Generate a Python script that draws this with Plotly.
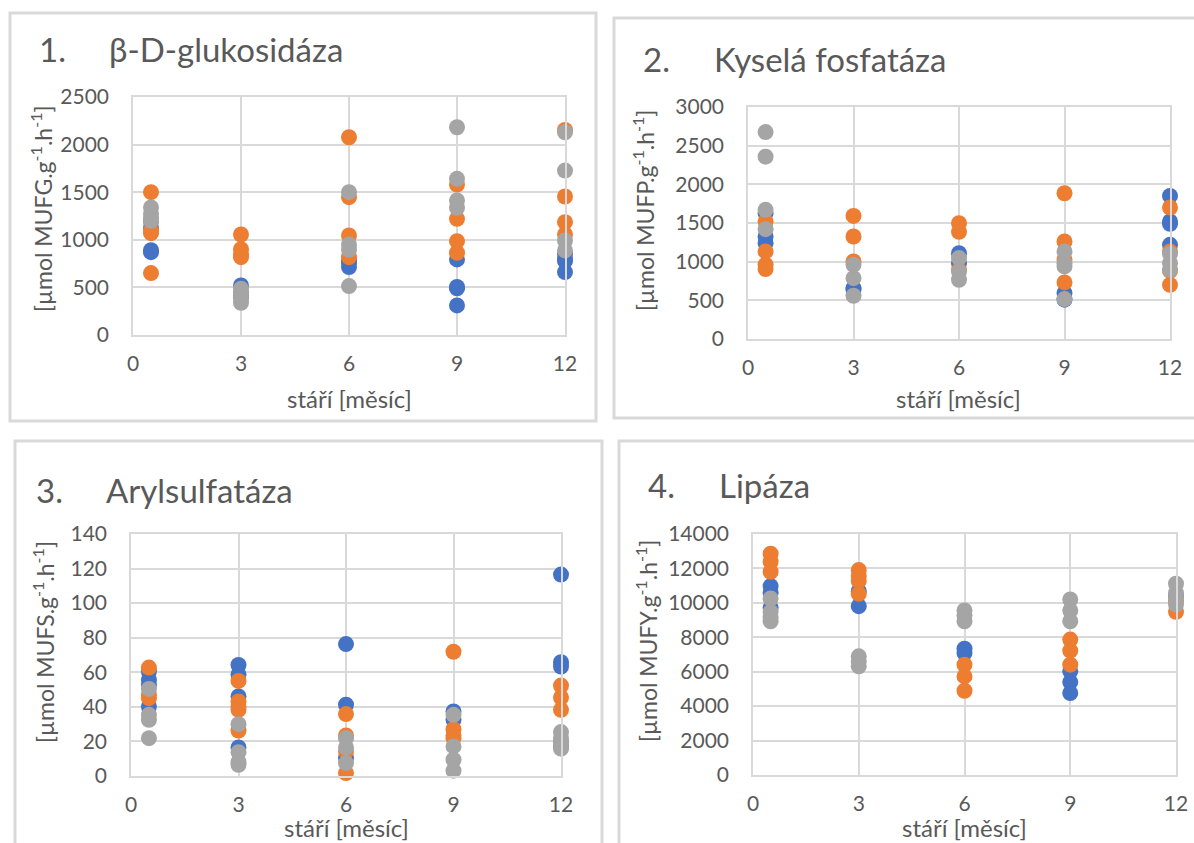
import plotly.graph_objects as go

W, H = 1194, 843
MONTHS = [0.5, 3, 6, 9, 12]
TICKS_X = [0, 3, 6, 9, 12]

# values per month group (0.5, 3, 6, 9, 12)
GLU_BLUE = [[1130, 1200, 890, 870], [521, 434, 400], [783, 713, 760], [794, 504, 311, 490], [853, 776, 661, 800]]
GLU_ORANGE = [[1500, 1070, 1100, 650], [1056, 902, 818, 850], [2077, 1448, 1046, 818], [1581, 1220, 986, 864], [2154, 1455, 1185, 1056]]
GLU_GRAY = [[1340, 1270, 1220, 1200], [486, 434, 399, 339], [1500, 951, 895, 514], [2182, 1640, 1413, 1336], [2130, 1727, 993, 888]]

FOS_BLUE = [[1627, 1325, 1239], [658, 637], [1110, 981], [594, 508], [1850, 1519, 1489, 1218]]
FOS_ORANGE = [[1519, 1132, 960, 904], [1592, 1325, 1003], [1497, 1386, 895], [1885, 1261, 1024, 732], [1700, 1132, 882, 701]]
FOS_GRAY = [[2676, 2358, 1670, 1420], [960, 787, 559], [1046, 874, 766], [1132, 981, 938, 516], [1102, 981, 895]]

ARY_BLUE = [[60.4, 55.6, 52.7, 40.2], [64.2, 58.8, 46, 16.5], [76.3, 41.2, 10.4], [37.3, 32.5], [116.5, 65.8, 63.3, 17.1]]
ARY_ORANGE = [[62.7, 46.9, 45], [55, 43.1, 40.2, 38.3, 26.3], [35.8, 23.5, 14.2, 1.7], [71.9, 27.1, 23.5, 21.9], [52.3, 45.4, 38.3, 20]]
ARY_GRAY = [[50.4, 35.4, 32.5, 21.9], [30, 13.8, 8.1, 6.5], [21.9, 16.5, 7.5], [35.4, 17.1, 9.4, 3.1], [25.4, 21.9, 18.1, 15.8]]

LIP_BLUE = [[10972, 10584, 9710], [10681, 9807], [7341, 7088], [6020, 5399, 4758], [10390]]
LIP_ORANGE = [[12856, 12390, 11807], [11905, 11555, 11264, 10526], [6409, 5729, 4894], [7865, 7224, 6409], [10098, 9477]]
LIP_GRAY = [[10254, 9477, 9166, 8933], [6894, 6603, 6312], [9554, 9283, 8933], [10196, 9554, 8933], [11108, 10584, 10293, 9904]]

TITLE_NUMS = ["1.", "2.", "3.", "4."]
TITLES = ["β-D-glukosidáza", "Kyselá fosfatáza", "Arylsulfatáza", "Lipáza"]
Y_TITLES = ["[µmol MUFG.g<sup>-1</sup>.h<sup>-1</sup>]", "[µmol MUFP.g<sup>-1</sup>.h<sup>-1</sup>]",
            "[µmol MUFS.g<sup>-1</sup>.h<sup>-1</sup>]", "[µmol MUFY.g<sup>-1</sup>.h<sup>-1</sup>]"]
X_TITLE = "stáří [měsíc]"
Y_MAX = [2500, 3000, 140, 14000]
Y_DTICK = [500, 500, 20, 2000]

COLORS = ["#4472C4", "#ED7D31", "#A5A5A5"]
FONT = "Lato"
TXT = "#595959"
GRID = "#D9D9D9"

panels = [
    (GLU_BLUE, GLU_ORANGE, GLU_GRAY),
    (FOS_BLUE, FOS_ORANGE, FOS_GRAY),
    (ARY_BLUE, ARY_ORANGE, ARY_GRAY),
    (LIP_BLUE, LIP_ORANGE, LIP_GRAY),
]

# plot-area pixel boxes: (left, right, top, bottom)
BOXES = [(133, 565, 97, 335), (748, 1170, 107, 339), (131, 561, 534, 776), (753, 1176, 534, 775)]
# frame rectangles
FRAMES = [(10, 13, 596, 421), (614, 18, 1210, 418), (15, 441, 602, 860), (619, 441, 1210, 860)]
# title positions: (num_x, text_x, y)
TITLE_POS = [(37, 107, 49), (641, 712, 59), (34, 104, 490), (646, 717, 485)]
YT_POS = [(42, 209), (644, 211), (43, 642), (646, 641)]
XT_POS = [(349, 398), (958, 399), (346, 827), (964, 827)]

fig = go.Figure()
layout = dict(width=W, height=H, margin=dict(l=0, r=0, t=0, b=0, autoexpand=False), showlegend=False,
              paper_bgcolor="white", plot_bgcolor="white")

def px(x):
    return x / W

def py(y):
    return 1 - y / H

annotations = []
shapes = []
for i, (series, box) in enumerate(zip(panels, BOXES)):
    sfx = "" if i == 0 else str(i + 1)
    for data, col in zip(series, COLORS):
        xs, ys = [], []
        for m, vals in zip(MONTHS, data):
            for v in vals:
                xs.append(m)
                ys.append(v)
        fig.add_trace(go.Scatter(x=xs, y=ys, mode="markers", xaxis="x" + sfx, yaxis="y" + sfx,
                                 marker=dict(size=16, color=col, line=dict(width=0)), cliponaxis=False))
    l, r, t, b = box
    layout["xaxis" + sfx] = dict(domain=[px(l), px(r)], range=[0, 12], tickvals=TICKS_X, anchor="y" + sfx,
                                 showgrid=True, gridcolor=GRID, gridwidth=1.5, zeroline=False,
                                 showline=True, linecolor=GRID, linewidth=1.5, mirror=True,
                                 ticks="", ticklabelstandoff=9, automargin=False,
                                 tickfont=dict(family=FONT, size=21, color=TXT), fixedrange=True)
    layout["yaxis" + sfx] = dict(domain=[py(b), py(t)], range=[0, Y_MAX[i]], dtick=Y_DTICK[i], anchor="x" + sfx,
                                 showgrid=True, gridcolor=GRID, gridwidth=1.5, zeroline=False,
                                 showline=True, linecolor=GRID, linewidth=1.5, mirror=True,
                                 ticks="", ticklabelstandoff=18, tickformat="d", automargin=False,
                                 tickfont=dict(family=FONT, size=21, color=TXT), fixedrange=True)
    nx, tx, ty = TITLE_POS[i]
    annotations.append(dict(x=px(nx), y=py(ty), xref="paper", yref="paper", text=TITLE_NUMS[i],
                            showarrow=False, xanchor="left", yanchor="middle",
                            font=dict(family=FONT, size=33, color=TXT)))
    annotations.append(dict(x=px(tx), y=py(ty), xref="paper", yref="paper", text=TITLES[i],
                            showarrow=False, xanchor="left", yanchor="middle",
                            font=dict(family=FONT, size=33, color=TXT)))
    yx, yy = YT_POS[i]
    annotations.append(dict(x=px(yx), y=py(yy), xref="paper", yref="paper", text=Y_TITLES[i],
                            showarrow=False, xanchor="center", yanchor="middle", textangle=-90,
                            font=dict(family=FONT, size=23, color=TXT)))
    xx, xy = XT_POS[i]
    annotations.append(dict(x=px(xx), y=py(xy), xref="paper", yref="paper", text=X_TITLE,
                            showarrow=False, xanchor="center", yanchor="middle",
                            font=dict(family=FONT, size=24, color=TXT)))
    x0, y0, x1, y1 = FRAMES[i]
    shapes.append(dict(type="rect", xref="paper", yref="paper", x0=px(x0), y0=py(y0), x1=px(x1), y1=py(y1),
                       line=dict(color=GRID, width=3), fillcolor="rgba(0,0,0,0)", layer="below"))

layout["annotations"] = annotations
layout["shapes"] = shapes
fig.update_layout(**layout)
fig.write_html("out.html", config={"displayModeBar": False},
               post_script="document.body.style.margin='0';document.body.style.overflow='hidden';")
